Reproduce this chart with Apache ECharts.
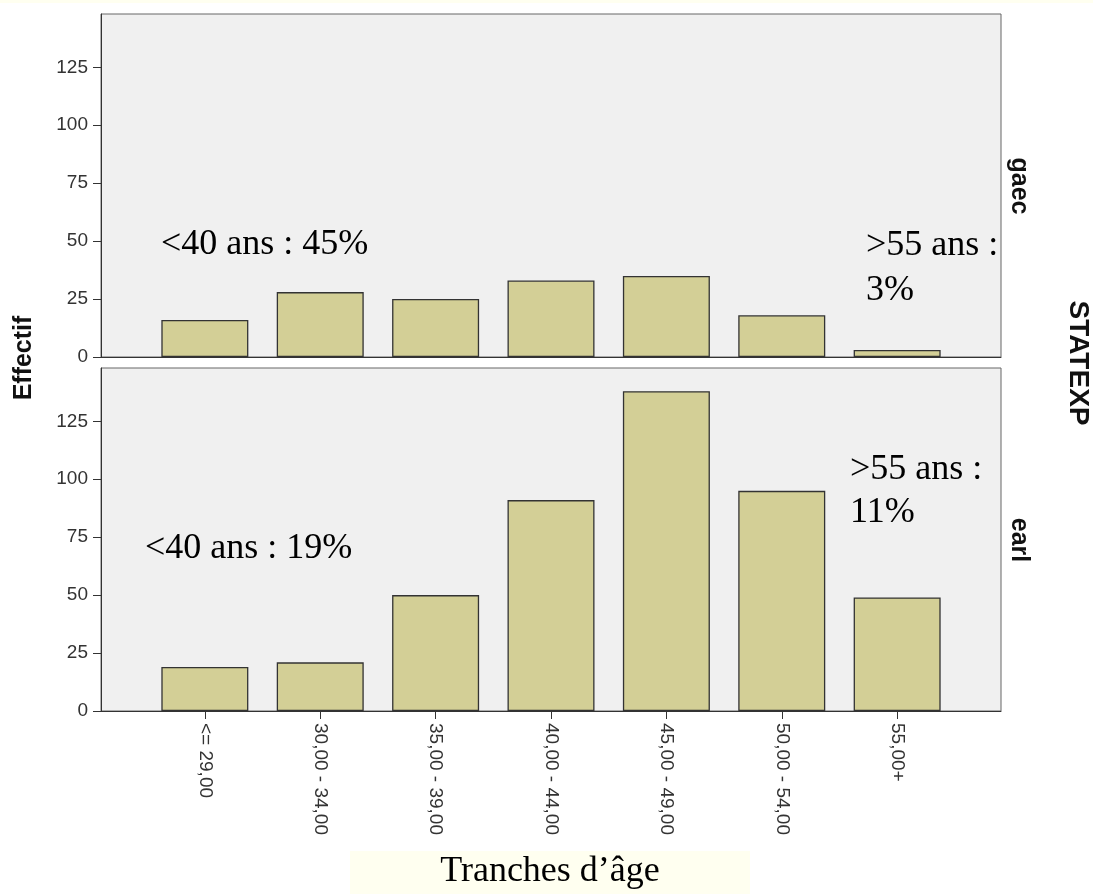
<!DOCTYPE html>
<html>
<head>
<meta charset="utf-8">
<script src="https://cdn.jsdelivr.net/npm/echarts@6/dist/echarts.min.js"></script>
<style>
  html, body { margin: 0; padding: 0; background: #fff; }
  #chart { width: 1093px; height: 894px; }
</style>
</head>
<body>
<div id="chart"></div>
<script>
// tranches d'âge
var categories = ["<= 29,00", "30,00 - 34,00", "35,00 - 39,00", "40,00 - 44,00", "45,00 - 49,00", "50,00 - 54,00", "55,00+"];
// effectifs par statut
var gaecValues = [16, 28, 25, 33, 35, 18, 3];
var earlValues = [19, 21, 50, 91, 138, 95, 49];
var yTicks = [0, 25, 50, 75, 100, 125];
var catIndex = [0, 1, 2, 3, 4, 5, 6];

var chart = echarts.init(document.getElementById("chart"));

var sans = "'Liberation Sans', Arial, sans-serif";
var serif = "'Liberation Serif', 'Times New Roman', serif";

function toPairs(vals) {
  return vals.map(function (v, i) { return [i, v]; });
}

function yAxis(gridIndex) {
  return {
    type: "value",
    gridIndex: gridIndex,
    min: 0,
    max: 148,
    splitLine: { show: false },
    axisLine: { show: true, onZero: false, lineStyle: { color: "#333", width: 1 } },
    axisTick: { show: true, length: 8, customValues: yTicks, lineStyle: { color: "#333" } },
    axisLabel: { customValues: yTicks, color: "#333", fontSize: 19, fontFamily: sans, margin: 13 },
  };
}

function xAxis(gridIndex, withLabels) {
  return {
    type: "value",
    gridIndex: gridIndex,
    min: -0.9,
    max: 6.9,
    splitLine: { show: false },
    axisLine: { show: true, onZero: false, lineStyle: { color: "#333", width: 1 } },
    axisTick: { show: withLabels, length: 8, customValues: catIndex, lineStyle: { color: "#333" } },
    axisLabel: {
      show: withLabels,
      customValues: catIndex,
      rotate: -90,
      margin: 12,
      color: "#333",
      fontSize: 19,
      fontFamily: sans,
      formatter: function (v) { return categories[Math.round(v)]; },
    },
  };
}

var barStyle = { color: "#d3cf96", borderColor: "#333", borderWidth: 1.3 };

function annot(text, x, y) {
  return {
    type: "text",
    x: x,
    y: y,
    style: { text: text, fill: "#000", font: "36px " + serif, verticalAlign: "middle" },
    z: 10,
  };
}

function vtext(text, x, y, size, rot) {
  return {
    type: "text",
    x: x,
    y: y,
    rotation: rot,
    style: { text: text, fill: "#111", font: "bold " + size + "px " + sans, align: "center", verticalAlign: "middle" },
  };
}

var option = {
  animation: false,
  backgroundColor: "#fff",
  grid: [
    { left: 101, top: 14, width: 900, height: 343, show: true, backgroundColor: "#f0f0f0", borderColor: "#666", borderWidth: 1 },
    { left: 101, top: 368, width: 900, height: 343, show: true, backgroundColor: "#f0f0f0", borderColor: "#666", borderWidth: 1 },
  ],
  xAxis: [xAxis(0, false), xAxis(1, true)],
  yAxis: [yAxis(0), yAxis(1)],
  series: [
    { name: "gaec", type: "bar", xAxisIndex: 0, yAxisIndex: 0, barWidth: 87, data: toPairs(gaecValues), itemStyle: barStyle },
    { name: "earl", type: "bar", xAxisIndex: 1, yAxisIndex: 1, barWidth: 87, data: toPairs(earlValues), itemStyle: barStyle },
  ],
  graphic: [
    { type: "rect", shape: { x: 0, y: 0, width: 1093, height: 3 }, style: { fill: "#fffff0" } },
    { type: "rect", shape: { x: 350, y: 851, width: 400, height: 43 }, style: { fill: "#fffff0" } },
    {
      type: "text",
      x: 550,
      y: 872,
      style: { text: "Tranches d’âge", fill: "#000", font: "36px " + serif, align: "center", verticalAlign: "middle" },
    },
    annot("<40 ans : 45%", 161, 245),
    annot(">55 ans :", 866, 246),
    annot("3%", 866, 291),
    annot("<40 ans : 19%", 145, 549),
    annot(">55 ans :", 850, 470),
    annot("11%", 850, 513),
    vtext("Effectif", 24, 358, 25, Math.PI / 2),
    vtext("gaec", 1019, 186, 25, -Math.PI / 2),
    vtext("earl", 1019, 540, 25, -Math.PI / 2),
    vtext("STATEXP", 1078, 363, 28, -Math.PI / 2),
  ],
};

chart.setOption(option);
</script>
</body>
</html>
